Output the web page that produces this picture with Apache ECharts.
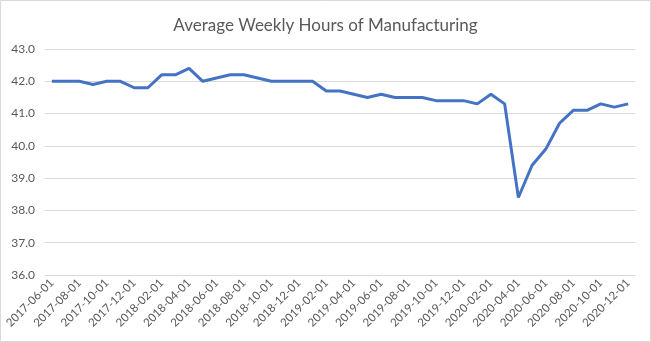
<!DOCTYPE html>
<html><head><meta charset="utf-8">
<script src="https://cdn.jsdelivr.net/npm/echarts@6/dist/echarts.min.js"></script>
<style>html,body{margin:0;padding:0;background:#fff}#c{width:651px;height:342px}</style>
</head><body><div id="c"></div>
<script>
const title = 'Average Weekly Hours of Manufacturing';
const dates = [
'2017-06-01','2017-07-01','2017-08-01','2017-09-01','2017-10-01','2017-11-01','2017-12-01',
'2018-01-01','2018-02-01','2018-03-01','2018-04-01','2018-05-01','2018-06-01','2018-07-01','2018-08-01','2018-09-01','2018-10-01','2018-11-01','2018-12-01',
'2019-01-01','2019-02-01','2019-03-01','2019-04-01','2019-05-01','2019-06-01','2019-07-01','2019-08-01','2019-09-01','2019-10-01','2019-11-01','2019-12-01',
'2020-01-01','2020-02-01','2020-03-01','2020-04-01','2020-05-01','2020-06-01','2020-07-01','2020-08-01','2020-09-01','2020-10-01','2020-11-01','2020-12-01'];
const hours = [
42.0,42.0,42.0,41.9,42.0,42.0,41.8,
41.8,42.2,42.2,42.4,42.0,42.1,42.2,42.2,42.1,42.0,42.0,42.0,
42.0,41.7,41.7,41.6,41.5,41.6,41.5,41.5,41.5,41.4,41.4,41.4,
41.3,41.6,41.3,38.4,39.4,39.9,40.7,41.1,41.1,41.3,41.2,41.3];
const yMin = 36, yMax = 43, yStep = 1;

const chart = echarts.init(document.getElementById('c'));
chart.setOption({
  animation:false,
  backgroundColor:'#fff',
  title:{text:title,left:'center',top:12,textStyle:{fontFamily:'Lato',fontWeight:'normal',fontSize:17,color:'#595959'}},
  grid:{left:45,right:16,top:49,bottom:67},
  graphic:[{type:'rect',shape:{x:0.5,y:0.5,width:650,height:341},style:{fill:'none',stroke:'#d9d9d9',lineWidth:1},silent:true}],
  xAxis:{type:'category',data:dates,boundaryGap:true,
    axisLine:{lineStyle:{color:'#d9d9d9'}},
    axisTick:{interval:1,length:5,lineStyle:{color:'#d9d9d9'}},
    axisLabel:{interval:1,rotate:45,fontFamily:'Lato',fontSize:11.5,color:'#595959',margin:6}},
  yAxis:{type:'value',min:yMin,max:yMax,interval:yStep,
    axisLine:{show:false},axisTick:{show:false},
    splitLine:{lineStyle:{color:'#d9d9d9'}},
    axisLabel:{formatter:v=>v.toFixed(1),fontFamily:'Lato',fontSize:12,color:'#595959',margin:10}},
  series:[{type:'line',data:hours,showSymbol:false,lineStyle:{color:'#4472C4',width:3},itemStyle:{color:'#4472C4'}}]
});
</script></body></html>
